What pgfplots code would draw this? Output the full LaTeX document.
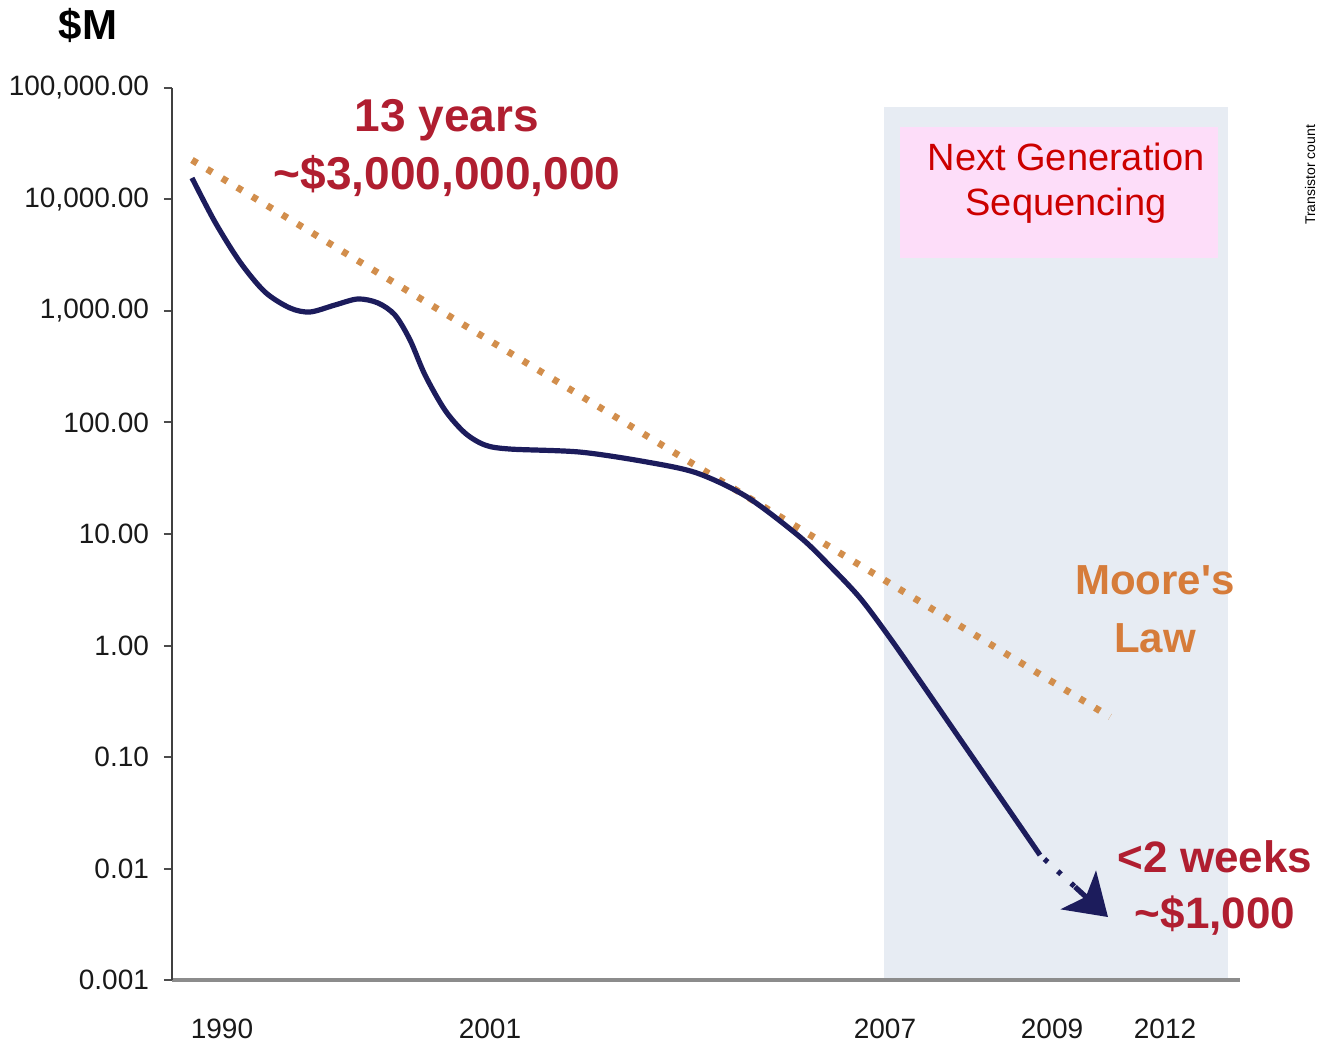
\documentclass[border=0pt]{standalone}
\usepackage{fontspec}
\setmainfont{Liberation Sans}
\usepackage{pgfplots}
\pgfplotsset{compat=1.18}
\usetikzlibrary{arrows.meta}

\definecolor{navyline}{RGB}{28,28,92}
\definecolor{mooreorange}{RGB}{210,142,76}
\definecolor{ngsband}{RGB}{231,236,243}
\definecolor{ngspink}{RGB}{253,221,249}
\definecolor{darkred}{RGB}{176,30,48}
\definecolor{ngsred}{RGB}{204,0,0}
\definecolor{mooretext}{RGB}{214,124,58}

\begin{document}
\begin{tikzpicture}
% page size: 1 px of the reference = 0.5pt, axis origin at (0,0)
\path[use as bounding box] (-86pt,-32pt) rectangle (572.5pt,490pt);
\begin{axis}[
    at={(0,0)}, anchor=south west,
    scale only axis,
    width=534pt, height=446pt,
    xmin=172, xmax=1240,
    ymin=0.001, ymax=100000,
    ymode=log,
    axis lines=left,
    axis line style={-},
    x axis line style={draw=black!45, line width=2pt},
    y axis line style={draw=black!75, line width=1.4pt},
    axis on top,
    clip=false,
    xtick={222,490,885,1052,1165},
    xticklabels={1990,2001,2007,2009,2012},
    ytick={0.001,0.01,0.1,1,10,100,1000,10000,100000},
    yticklabels={0.001,0.01,0.10,1.00,10.00,100.00,{1,000.00},{10,000.00},{100,000.00}},
    yminorticks=false,
    tick align=outside,
    major tick length=4pt,
    xtick style={draw=none},
    ytick style={draw=black!70, line width=1pt},
    ticklabel style={font=\fontsize{14}{15}\selectfont, text=black!90},
    xticklabel style={yshift=-12pt},
    yticklabel style={xshift=-4pt},
    /pgf/number format/assume math mode=true,
]

% NGS period band and label box
\addplot[fill=ngsband, draw=none] coordinates {
    (884,0.001) (884,67600) (1228,67600) (1228,0.001)} -- cycle;
\addplot[fill=ngspink, draw=none] coordinates {
    (900,2985) (900,44700) (1218,44700) (1218,2985)} -- cycle;

% Moore's law trend
\addplot[mooreorange, line width=3.4pt, dash pattern=on 3pt off 5.8pt] coordinates {
    (192,22600) (1110,0.229)};

% cost per genome
\addplot[navyline, line width=2.6pt, smooth] coordinates {
    (192,15600) (215,6280) (240,2750) (265,1480) (290,1064) (310,980)
    (335,1132) (358,1282) (378,1180) (395,920) (410,550) (425,267)
    (445,129) (465,80.5) (485,62.8) (510,57.8) (580,54.3) (647,44.2)
    (697,35.2) (747,21.5) (800,9.40) (830,5.16) (860,2.67) (890,1.167)
    (920,0.481) (960,0.145) (1000,0.0438) (1040,0.0132)};
\addplot[navyline, line width=2.6pt, dash pattern=on 2.2pt off 6.8pt, dash phase=-3pt] coordinates {
    (1040,0.0132) (1078,0.00647)};
\addplot[navyline, line width=2.6pt, -{Stealth[length=20pt, width=26pt, inset=5pt]}] coordinates {
    (1075,0.00684) (1108,0.00367)};
\end{axis}

\node[font=\bfseries\fontsize{21}{24}\selectfont] at (-42pt,477.5pt) {\$M};
\node[text=darkred, font=\bfseries\fontsize{23}{26}\selectfont] at (137.5pt,430pt) {13 years};
\node[text=darkred, font=\bfseries\fontsize{23}{26}\selectfont] at (137.5pt,402pt) {\textasciitilde\$3,000,000,000};
\node[text=ngsred, align=center, font=\fontsize{19}{22.5}\selectfont] at (447pt,398.5pt) {Next Generation\\Sequencing};
\node[text=mooretext, align=center, font=\bfseries\fontsize{21}{29}\selectfont] at (491.5pt,185.5pt) {Moore\textquotesingle s\\Law};
\node[text=darkred, align=center, font=\bfseries\fontsize{22}{28}\selectfont] at (521.5pt,46pt) {<2 weeks\\\textasciitilde\$1,000};
\node[rotate=90, font=\fontsize{7}{8}\selectfont] at (569pt,402.5pt) {Transistor count};
\end{tikzpicture}
\end{document}
